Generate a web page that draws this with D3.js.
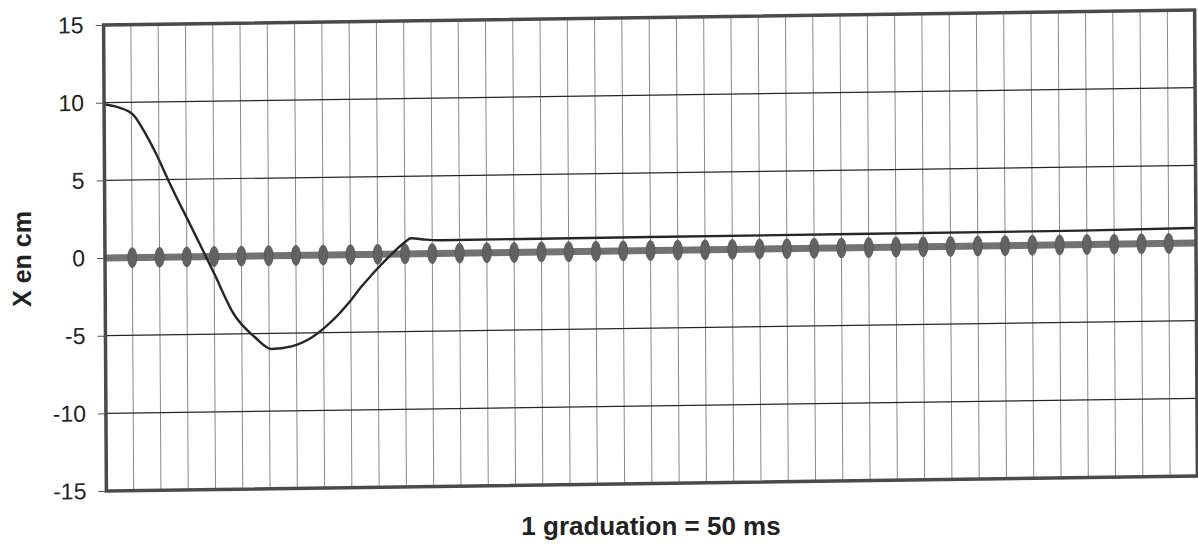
<!DOCTYPE html>
<html>
<head>
<meta charset="utf-8">
<script src="https://cdn.jsdelivr.net/npm/d3@7.9.0/dist/d3.min.js"></script>
<style>
  body { margin: 0; background: #fff; }
  text { font-family: "Liberation Sans", Arial, sans-serif; }
</style>
</head>
<body>
<svg id="chart" width="1198" height="547"></svg>
<script>
// position of the mass (cm), time in ms
const timeMs = [0, 25, 53, 75, 97, 115, 135, 152, 181, 200, 236, 273, 304, 341, 378, 414, 451, 469, 488, 524, 548, 561, 588, 616, 1000, 1789, 2000];
const posCm  = [9.9, 9.7, 9.2, 8.0, 6.5, 5.1, 3.6, 2.4, 0.3, -1.1, -3.75, -5.2, -6.0, -5.85, -5.3, -4.3, -2.9, -2.1, -1.35, -0.05, 0.7, 1.0, 0.9, 0.85, 0.87, 0.9, 0.97];

const yTicks = [-15, -10, -5, 0, 5, 10, 15];
const yGrid = [-10, -5, 0, 5, 10];
const graduationMs = 50;
const totalMs = 2000;

const plotLeft = 105, plotRight = 1196, plotTop = 25, plotBottom = 491;

const svg = d3.select('#chart');

// the scan is slightly skewed: reproduce it with a small matrix
const plot = svg.append('g')
    .attr('transform', `matrix(1,-0.0137,0.006,1,${-0.006 * 258},${0.0137 * plotLeft})`);

const x = d3.scaleLinear().domain([0, totalMs]).range([plotLeft, plotRight]);
const y = d3.scaleLinear().domain([-15, 15]).range([plotBottom, plotTop]);

const grads = d3.range(graduationMs, totalMs, graduationMs);

// vertical graduation lines
plot.append('g')
    .selectAll('line')
    .data(grads)
    .join('line')
    .attr('x1', d => x(d)).attr('x2', d => x(d))
    .attr('y1', plotTop).attr('y2', plotBottom)
    .attr('stroke', '#8a8a8a')
    .attr('stroke-width', 1);

// horizontal grid lines
plot.append('g')
    .selectAll('line')
    .data(yGrid)
    .join('line')
    .attr('x1', plotLeft).attr('x2', plotRight)
    .attr('y1', d => y(d)).attr('y2', d => y(d))
    .attr('stroke', '#262626')
    .attr('stroke-width', 1.2);

// thick zero reference with oval markers
plot.append('line')
    .attr('x1', plotLeft).attr('x2', plotRight)
    .attr('y1', y(0)).attr('y2', y(0))
    .attr('stroke', '#727272')
    .attr('stroke-width', 7);

plot.append('g')
    .selectAll('ellipse')
    .data(grads)
    .join('ellipse')
    .attr('cx', d => x(d))
    .attr('cy', y(0))
    .attr('rx', 4.5)
    .attr('ry', 10)
    .attr('fill', '#626262')
    .attr('stroke', '#555')
    .attr('stroke-width', 0.8);

// the measured curve
const line = d3.line()
    .x((d, i) => x(timeMs[i]))
    .y(d => y(d))
    .curve(d3.curveMonotoneX);

plot.append('path')
    .attr('d', line(posCm))
    .attr('fill', 'none')
    .attr('stroke', '#262626')
    .attr('stroke-width', 2.4);

// frame
plot.append('rect')
    .attr('x', plotLeft).attr('y', plotTop)
    .attr('width', plotRight - plotLeft).attr('height', plotBottom - plotTop)
    .attr('fill', 'none')
    .attr('stroke', '#4a4a4a')
    .attr('stroke-width', 3.5);

// y axis
const yAxis = d3.axisLeft(y)
    .tickValues(yTicks)
    .tickFormat(d => String(d))
    .tickSize(7)
    .tickPadding(12);

const ya = plot.append('g')
    .attr('transform', `translate(${plotLeft - 1},0)`)
    .call(yAxis);
ya.select('.domain').remove();
ya.selectAll('.tick line').attr('stroke', '#555');
ya.selectAll('.tick text')
    .attr('font-size', 23)
    .attr('fill', '#222')
    .style('font-family', '"Liberation Sans", Arial, sans-serif');

// titles
svg.append('text')
    .attr('x', 651)
    .attr('y', 535)
    .attr('text-anchor', 'middle')
    .attr('font-size', 26)
    .attr('font-weight', 'bold')
    .attr('fill', '#222')
    .text('1 graduation = 50 ms');

svg.append('text')
    .attr('transform', 'translate(31,259) rotate(-90)')
    .attr('text-anchor', 'middle')
    .attr('font-size', 25)
    .attr('font-weight', 'bold')
    .attr('fill', '#222')
    .text('X en cm');
</script>
</body>
</html>
